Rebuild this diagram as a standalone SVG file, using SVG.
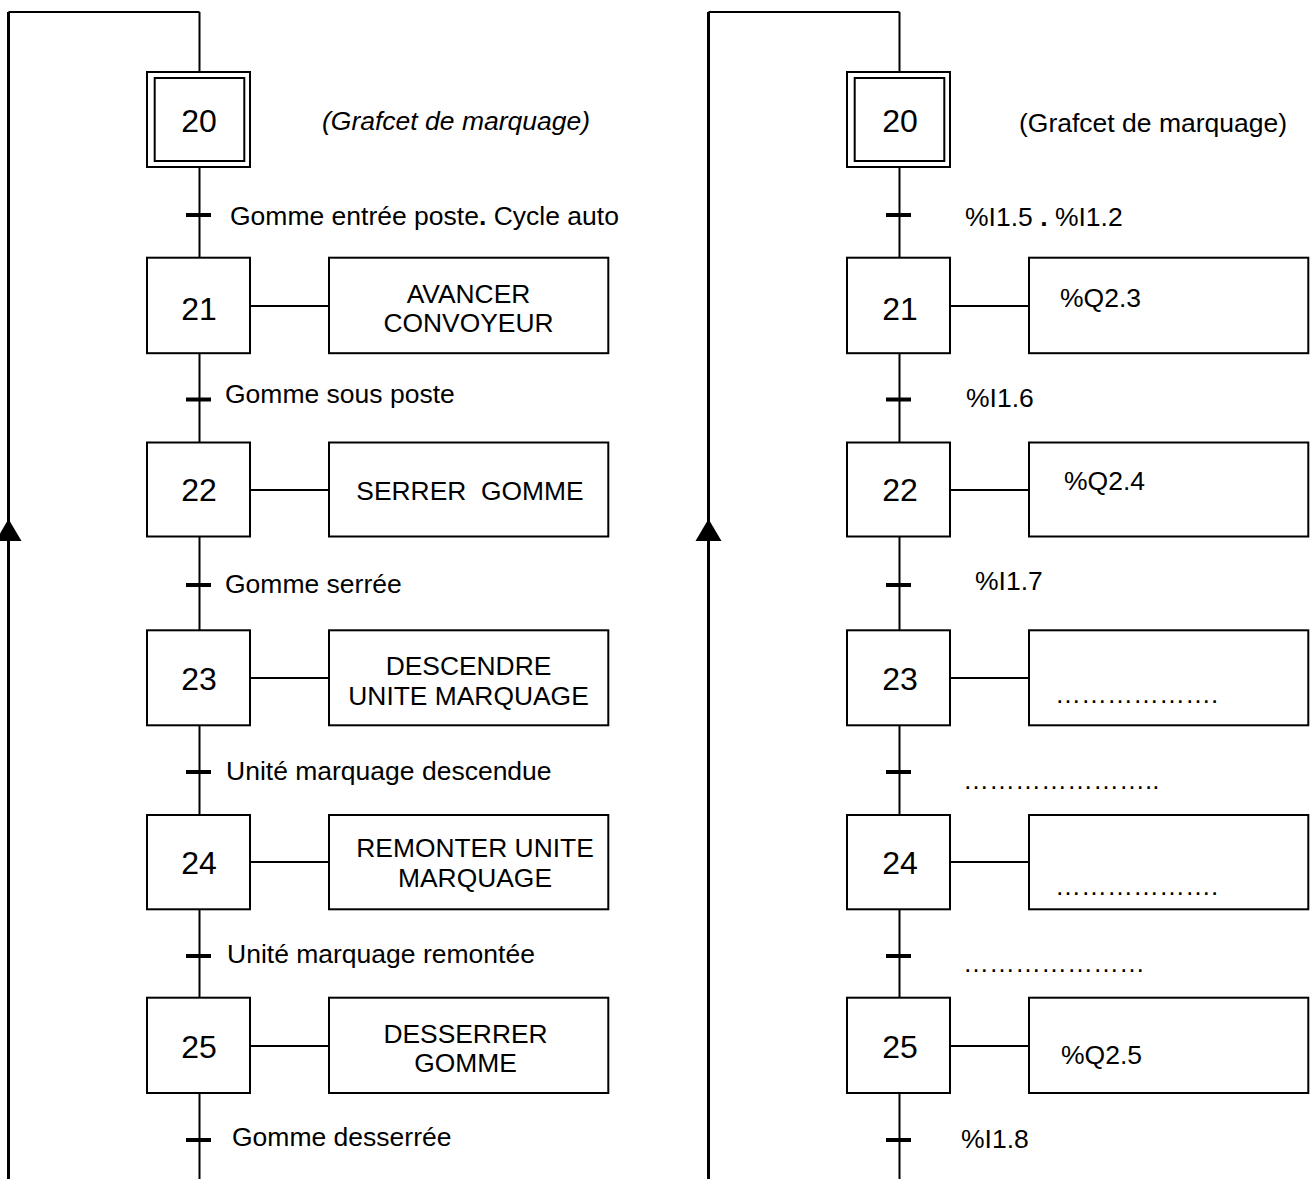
<svg xmlns="http://www.w3.org/2000/svg" width="1310" height="1179" viewBox="0 0 1310 1179">
<defs>
<style>
text{font-family:"Liberation Sans",Arial,sans-serif;fill:#000}
.num{font-size:32px;text-anchor:middle}
.lbl{font-size:26.5px}
.act{font-size:26.4px;text-anchor:middle}
.it{font-style:italic}
.box{fill:#fff;stroke:#000;stroke-width:2}
.ln{fill:none;stroke:#000;stroke-width:2}
.loop{fill:none;stroke:#000;stroke-width:3}
.bar{stroke:#000;stroke-width:4}
</style>
<g id="connectors">
<polyline class="loop" points="8.5,1179 8.5,12"/>
<line class="ln" x1="8.5" y1="12" x2="199.5" y2="12"/>
<line class="ln" x1="199.5" y1="12" x2="199.5" y2="1179"/>
<polygon points="8.5,519 -4.5,541 21.5,541" fill="#000"/>
<line class="ln" x1="251" y1="306" x2="329" y2="306"/>
<line class="ln" x1="251" y1="490" x2="329" y2="490"/>
<line class="ln" x1="251" y1="678" x2="329" y2="678"/>
<line class="ln" x1="251" y1="862" x2="329" y2="862"/>
<line class="ln" x1="251" y1="1046" x2="329" y2="1046"/>
<line class="bar" x1="186" y1="215" x2="211" y2="215"/>
<line class="bar" x1="186" y1="399.5" x2="211" y2="399.5"/>
<line class="bar" x1="186" y1="585" x2="211" y2="585"/>
<line class="bar" x1="186" y1="772" x2="211" y2="772"/>
<line class="bar" x1="186" y1="956" x2="211" y2="956"/>
<line class="bar" x1="186" y1="1140" x2="211" y2="1140"/>
</g>
</defs>

<g id="left-connectors">
<use href="#connectors"/>
</g>
<g id="right-connectors">
<use href="#connectors" transform="translate(700,0)"/>
</g>

<!-- Left nodes -->
<g id="L-step20">
<rect class="box" x="147" y="72" width="103" height="95"/>
<rect class="box" x="154.7" y="78" width="89.6" height="83"/>
<text class="num" x="199" y="132">20</text>
</g>
<text class="lbl it" x="322" y="130">(Grafcet de marquage)</text>
<text class="lbl" x="230" y="225">Gomme entrée poste<tspan font-weight="bold">.</tspan> Cycle auto</text>

<g id="L-step21">
<rect class="box" x="147" y="257.7" width="103" height="95.5"/>
<text class="num" x="199" y="320">21</text>
</g>
<g id="L-act21">
<rect class="box" x="329" y="257.7" width="279.3" height="95.5"/>
<text class="act" x="468.5" y="303">AVANCER</text>
<text class="act" x="468.5" y="332">CONVOYEUR</text>
</g>
<text class="lbl" x="225" y="403">Gomme sous poste</text>

<g id="L-step22">
<rect class="box" x="147" y="442.5" width="103" height="94"/>
<text class="num" x="199" y="501">22</text>
</g>
<g id="L-act22">
<rect class="box" x="329" y="442.5" width="279.3" height="94"/>
<text class="act" x="470" y="499.5" xml:space="preserve" style="white-space:pre">SERRER  GOMME</text>
</g>
<text class="lbl" x="225" y="593">Gomme serrée</text>

<g id="L-step23">
<rect class="box" x="147" y="630.3" width="103" height="95"/>
<text class="num" x="199" y="690">23</text>
</g>
<g id="L-act23">
<rect class="box" x="329" y="630.3" width="279.3" height="95"/>
<text class="act" x="468.5" y="675">DESCENDRE</text>
<text class="act" x="468.5" y="705">UNITE MARQUAGE</text>
</g>
<text class="lbl" x="226" y="779.5">Unité marquage descendue</text>

<g id="L-step24">
<rect class="box" x="147" y="815" width="103" height="94.3"/>
<text class="num" x="199" y="874">24</text>
</g>
<g id="L-act24">
<rect class="box" x="329" y="815" width="279.3" height="94.3"/>
<text class="act" x="475" y="857">REMONTER UNITE</text>
<text class="act" x="475" y="887">MARQUAGE</text>
</g>
<text class="lbl" x="227" y="963">Unité marquage remontée</text>

<g id="L-step25">
<rect class="box" x="147" y="997.7" width="103" height="95.3"/>
<text class="num" x="199" y="1058">25</text>
</g>
<g id="L-act25">
<rect class="box" x="329" y="997.7" width="279.3" height="95.3"/>
<text class="act" x="465.5" y="1043">DESSERRER</text>
<text class="act" x="465.5" y="1072">GOMME</text>
</g>
<text class="lbl" x="232" y="1146">Gomme desserrée</text>

<!-- Right nodes -->
<g id="R-step20">
<rect class="box" x="847" y="72" width="103" height="95"/>
<rect class="box" x="854.7" y="78" width="89.6" height="83"/>
<text class="num" x="900" y="132">20</text>
</g>
<text class="lbl" x="1019" y="132">(Grafcet de marquage)</text>
<text class="lbl" x="965" y="226">%I1.5 <tspan font-weight="bold">.</tspan> %I1.2</text>

<g id="R-step21">
<rect class="box" x="847" y="257.7" width="103" height="95.5"/>
<text class="num" x="900" y="320">21</text>
</g>
<g id="R-act21">
<rect class="box" x="1029" y="257.7" width="279.3" height="95.5"/>
<text class="lbl" x="1060" y="307">%Q2.3</text>
</g>
<text class="lbl" x="966" y="407">%I1.6</text>

<g id="R-step22">
<rect class="box" x="847" y="442.5" width="103" height="94"/>
<text class="num" x="900" y="501">22</text>
</g>
<g id="R-act22">
<rect class="box" x="1029" y="442.5" width="279.3" height="94"/>
<text class="lbl" x="1064" y="490">%Q2.4</text>
</g>
<text class="lbl" x="975" y="590">%I1.7</text>

<g id="R-step23">
<rect class="box" x="847" y="630.3" width="103" height="95"/>
<text class="num" x="900" y="690">23</text>
</g>
<g id="R-act23">
<rect class="box" x="1029" y="630.3" width="279.3" height="95"/>
<text class="lbl" x="1055" y="703" style="font-size:26px">……………….</text>
</g>
<text class="lbl" x="963" y="789" style="font-size:26px">…………………..</text>

<g id="R-step24">
<rect class="box" x="847" y="815" width="103" height="94.3"/>
<text class="num" x="900" y="874">24</text>
</g>
<g id="R-act24">
<rect class="box" x="1029" y="815" width="279.3" height="94.3"/>
<text class="lbl" x="1055" y="895" style="font-size:26px">……………….</text>
</g>
<text class="lbl" x="963" y="972" style="font-size:26px">…………………</text>

<g id="R-step25">
<rect class="box" x="847" y="997.7" width="103" height="95.3"/>
<text class="num" x="900" y="1058">25</text>
</g>
<g id="R-act25">
<rect class="box" x="1029" y="997.7" width="279.3" height="95.3"/>
<text class="lbl" x="1061" y="1064">%Q2.5</text>
</g>
<text class="lbl" x="961" y="1148">%I1.8</text>
</svg>
